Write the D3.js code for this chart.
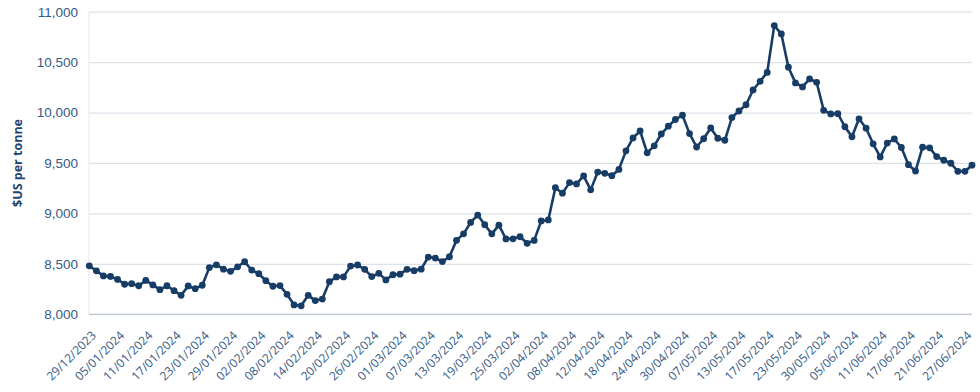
<!DOCTYPE html>
<html>
<head>
<meta charset="utf-8">
<script src="https://cdn.jsdelivr.net/npm/d3@7"></script>
<style>
  html, body { margin: 0; padding: 0; background: #fff; }
  svg { display: block; font-family: "Open Sans", sans-serif; }
  .tick text { fill: #365a84; }
</style>
</head>
<body>
<div id="chart"></div>
<script>
// LME daily price, $US per tonne, 29/12/2023 - 28/06/2024 (trading days)
const prices = [
  8480, 8430, 8380, 8375, 8345, 8297, 8303, 8282, 8335, 8290,
  8243, 8282, 8233, 8187, 8280, 8253, 8287, 8462, 8490, 8447,
  8425, 8470, 8520, 8438, 8402, 8332, 8277, 8284, 8197, 8092,
  8083, 8187, 8135, 8150, 8322, 8370, 8370, 8477, 8488, 8445,
  8373, 8405, 8340, 8392, 8397, 8445, 8432, 8447, 8567, 8557,
  8522, 8570, 8733, 8797, 8910, 8983, 8887, 8797, 8883, 8747,
  8748, 8768, 8703, 8732, 8925, 8935, 9255, 9200, 9305, 9292,
  9371, 9233, 9410, 9397, 9374, 9436, 9620, 9748, 9817, 9600,
  9670, 9787, 9865, 9931, 9973, 9791, 9658, 9740, 9847, 9745,
  9725, 9950, 10015, 10077, 10224, 10310, 10398, 10862, 10780, 10450,
  10294, 10254, 10333, 10300, 10022, 9986, 9989, 9859, 9760, 9938,
  9845, 9690, 9560, 9697, 9738, 9653, 9483, 9420, 9656, 9650,
  9563, 9527, 9497, 9417, 9417, 9478
];

// labels shown on every 4th trading day
const tickLabels = [
  "29/12/2023", "05/01/2024", "11/01/2024", "17/01/2024", "23/01/2024",
  "29/01/2024", "02/02/2024", "08/02/2024", "14/02/2024", "20/02/2024",
  "26/02/2024", "01/03/2024", "07/03/2024", "13/03/2024", "19/03/2024",
  "25/03/2024", "02/04/2024", "08/04/2024", "12/04/2024", "18/04/2024",
  "24/04/2024", "30/04/2024", "07/05/2024", "13/05/2024", "17/05/2024",
  "23/05/2024", "30/05/2024", "05/06/2024", "11/06/2024", "17/06/2024",
  "21/06/2024", "27/06/2024"
];
const tickStep = 4;

const yTicks = [8000, 8500, 9000, 9500, 10000, 10500, 11000];
const yTitle = "$US per tonne";

const width = 980, height = 392;
const margin = { top: 12, right: 8, bottom: 78, left: 89 };
const lineColor = "#173d66";

const svg = d3.select("#chart").append("svg")
  .attr("width", width)
  .attr("height", height);

const x = d3.scaleLinear()
  .domain([0, prices.length - 1])
  .range([margin.left + 0.3, width - margin.right]);

const y = d3.scaleLinear()
  .domain([8000, 11000])
  .range([height - margin.bottom + 0.2, margin.top - 0.3]);

// gridlines + y labels
const yAxis = svg.append("g")
  .attr("transform", `translate(${margin.left},0)`)
  .call(d3.axisLeft(y)
    .tickValues(yTicks)
    .tickSize(-(width - margin.right - margin.left))
    .tickPadding(11)
    .tickFormat(d3.format(",")));
yAxis.select(".domain").remove();
yAxis.selectAll(".tick line")
  .attr("stroke", "#dce2ea")
  .attr("stroke-width", 1.2);
yAxis.selectAll(".tick text")
  .style("font-size", "13.5px");

// left vertical line
svg.append("line")
  .attr("x1", margin.left).attr("x2", margin.left)
  .attr("y1", y(11000)).attr("y2", y(8000))
  .attr("stroke", "#e3e7ec")
  .attr("stroke-width", 1);

// bottom axis line
svg.append("line")
  .attr("x1", margin.left).attr("x2", width - margin.right)
  .attr("y1", y(8000)).attr("y2", y(8000))
  .attr("stroke", "#b5c0cc")
  .attr("stroke-width", 1);

// x labels, rotated
const xLab = svg.append("g").attr("class", "xlabels");
xLab.selectAll("g")
  .data(tickLabels)
  .join("g")
  .attr("class", "tick")
  .attr("transform", (d, i) => `translate(${x(i * tickStep) + 7.5},${y(8000) + 22}) rotate(-45)`)
  .append("text")
  .attr("text-anchor", "end")
  .style("font-size", "12px")
  .text(d => d);

// axis title
svg.append("text")
  .attr("transform", `translate(22,${(y(8000) + y(11000)) / 2}) rotate(-90)`)
  .attr("text-anchor", "middle")
  .attr("fill", "#1f4670")
  .style("font-size", "12.5px")
  .style("font-weight", "bold")
  .text(yTitle);

// series
const line = d3.line()
  .x((d, i) => x(i))
  .y(d => y(d));

svg.append("path")
  .datum(prices)
  .attr("fill", "none")
  .attr("stroke", lineColor)
  .attr("stroke-width", 2.6)
  .attr("stroke-linejoin", "round")
  .attr("d", line);

svg.append("g")
  .selectAll("circle")
  .data(prices)
  .join("circle")
  .attr("cx", (d, i) => x(i))
  .attr("cy", d => y(d))
  .attr("r", 3.4)
  .attr("fill", lineColor);
</script>
</body>
</html>
